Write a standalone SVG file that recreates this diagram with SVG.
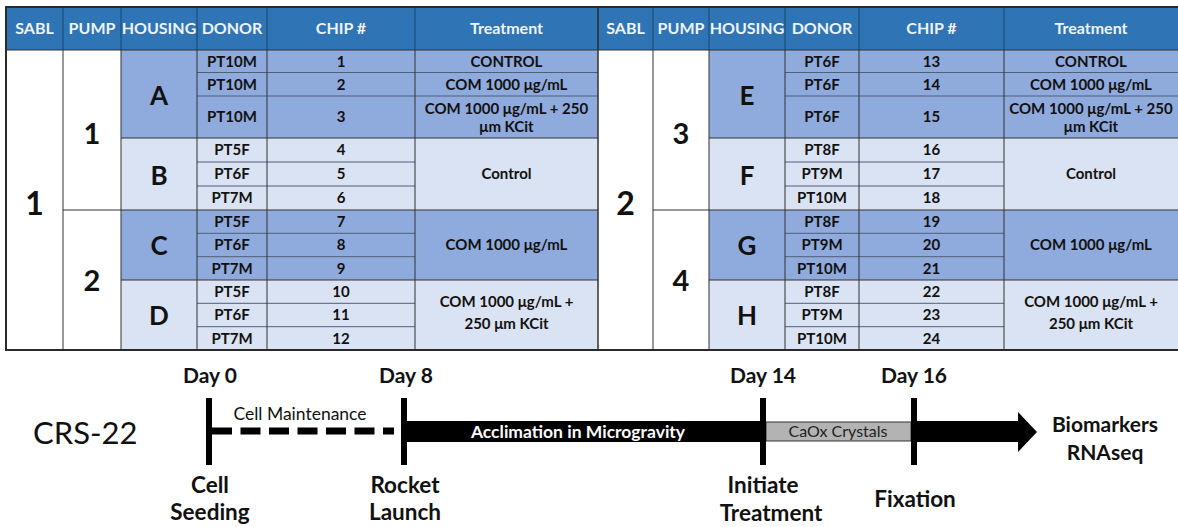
<svg xmlns="http://www.w3.org/2000/svg" width="1178" height="527" viewBox="0 0 1178 527">
<style>
text{font-family:Lato,"Noto Sans","DejaVu Sans",sans-serif}
.ht{font-weight:bold;font-size:16px;fill:#EEF3FA;text-anchor:middle}
.ct{font-weight:bold;font-size:15px;fill:#111;text-anchor:middle}
.big{font-weight:bold;font-size:32px;fill:#111;text-anchor:middle}
.pn{font-weight:bold;font-size:29px;fill:#111;text-anchor:middle}
.hs{font-weight:bold;font-size:26px;fill:#111;text-anchor:middle}
.med{fill:#8FAADC}
.lt{fill:#DAE3F3}
.wh{fill:#FFFFFF}
.g{stroke:#333;stroke-width:1;fill:none}
.s{stroke:#4F5F78;stroke-width:1;fill:none}
.hl{stroke:#1F4E79;stroke-width:1.2}
.tl{font-weight:bold;font-size:21px;fill:#111;text-anchor:middle}
.bl{font-weight:bold;font-size:22.5px;fill:#111;text-anchor:middle}
.bar{fill:#000}
</style>
<rect width="1178" height="527" fill="#fff"/>

<g id="header">
<rect x="6" y="7" width="1174" height="43" fill="#2F75B5"/>
<g class="hl">
<line x1="63" y1="7" x2="63" y2="50"/><line x1="121" y1="7" x2="121" y2="50"/><line x1="197" y1="7" x2="197" y2="50"/><line x1="267" y1="7" x2="267" y2="50"/><line x1="415" y1="7" x2="415" y2="50"/><line x1="598" y1="7" x2="598" y2="50"/>
<line x1="653" y1="7" x2="653" y2="50"/><line x1="709" y1="7" x2="709" y2="50"/><line x1="785" y1="7" x2="785" y2="50"/><line x1="859" y1="7" x2="859" y2="50"/><line x1="1004" y1="7" x2="1004" y2="50"/>
</g>
<text class="ht" x="34.5" y="34.3">SABL</text><text class="ht" x="92" y="34.3">PUMP</text><text class="ht" x="159" y="34.3">HOUSING</text><text class="ht" x="232" y="34.3">DONOR</text><text class="ht" x="341" y="34.3">CHIP #</text><text class="ht" x="506.5" y="34.3">Treatment</text>
<text class="ht" x="625.5" y="34.3">SABL</text><text class="ht" x="681" y="34.3">PUMP</text><text class="ht" x="747" y="34.3">HOUSING</text><text class="ht" x="822" y="34.3">DONOR</text><text class="ht" x="931.5" y="34.3">CHIP #</text><text class="ht" x="1091" y="34.3">Treatment</text>
</g>

<!-- LEFT HALF -->
<g id="sabl-1">
<rect class="wh" x="6" y="50" width="57" height="300"/>
<text class="big" x="34.5" y="215">1</text>
</g>
<g id="pump-1">
<rect class="wh" x="63" y="50" width="58" height="160"/>
<text class="pn" x="92" y="144">1</text>
</g>
<g id="pump-2">
<rect class="wh" x="63" y="210" width="58" height="140"/>
<text class="pn" x="92" y="291">2</text>
</g>
<g id="housing-A">
<rect class="med" x="121" y="50" width="477" height="88"/>
<text class="hs" x="159" y="105">A</text>
<g class="s"><line x1="197" y1="72.5" x2="598" y2="72.5"/><line x1="197" y1="96" x2="598" y2="96"/></g>
<text class="ct" x="232" y="66.6">PT10M</text><text class="ct" x="341" y="66.6">1</text><text class="ct" x="506.5" y="66.6">CONTROL</text>
<text class="ct" x="232" y="89.6">PT10M</text><text class="ct" x="341" y="89.6">2</text><text class="ct" x="506.5" y="89.6">COM 1000 μg/mL</text>
<text class="ct" x="232" y="122.4">PT10M</text><text class="ct" x="341" y="122.4">3</text><text class="ct" x="506.5" y="113.5">COM 1000 μg/mL + 250</text><text class="ct" x="506.5" y="131.5">μm KCit</text>
</g>
<g id="housing-B">
<rect class="lt" x="121" y="138" width="477" height="72"/>
<text class="hs" x="159" y="185">B</text>
<g class="s"><line x1="197" y1="162" x2="415" y2="162"/><line x1="197" y1="186" x2="415" y2="186"/></g>
<text class="ct" x="232" y="155.4">PT5F</text><text class="ct" x="341" y="155.4">4</text>
<text class="ct" x="232" y="179.4">PT6F</text><text class="ct" x="341" y="179.4">5</text>
<text class="ct" x="232" y="203.4">PT7M</text><text class="ct" x="341" y="203.4">6</text>
<text class="ct" x="506.5" y="179.4">Control</text>
</g>
<g id="housing-C">
<rect class="med" x="121" y="210" width="477" height="70"/>
<text class="hs" x="159" y="255">C</text>
<g class="s"><line x1="197" y1="233.3" x2="415" y2="233.3"/><line x1="197" y1="256.7" x2="415" y2="256.7"/></g>
<text class="ct" x="232" y="227">PT5F</text><text class="ct" x="341" y="227">7</text>
<text class="ct" x="232" y="250.4">PT6F</text><text class="ct" x="341" y="250.4">8</text>
<text class="ct" x="232" y="273.7">PT7M</text><text class="ct" x="341" y="273.7">9</text>
<text class="ct" x="506.5" y="250.4">COM 1000 μg/mL</text>
</g>
<g id="housing-D">
<rect class="lt" x="121" y="280" width="477" height="70"/>
<text class="hs" x="159" y="325">D</text>
<g class="s"><line x1="197" y1="303.3" x2="415" y2="303.3"/><line x1="197" y1="326.7" x2="415" y2="326.7"/></g>
<text class="ct" x="232" y="297">PT5F</text><text class="ct" x="341" y="297">10</text>
<text class="ct" x="232" y="320.4">PT6F</text><text class="ct" x="341" y="320.4">11</text>
<text class="ct" x="232" y="343.7">PT7M</text><text class="ct" x="341" y="343.7">12</text>
<text class="ct" x="506.5" y="306.5">COM 1000 μg/mL +</text><text class="ct" x="506.5" y="329">250 μm KCit</text>
</g>

<!-- RIGHT HALF -->
<g id="sabl-2">
<rect class="wh" x="598" y="50" width="55" height="300"/>
<text class="big" x="625.5" y="215">2</text>
</g>
<g id="pump-3">
<rect class="wh" x="653" y="50" width="56" height="160"/>
<text class="pn" x="681" y="144">3</text>
</g>
<g id="pump-4">
<rect class="wh" x="653" y="210" width="56" height="140"/>
<text class="pn" x="681" y="291">4</text>
</g>
<g id="housing-E">
<rect class="med" x="709" y="50" width="471" height="88"/>
<text class="hs" x="747" y="105">E</text>
<g class="s"><line x1="785" y1="72.5" x2="1180" y2="72.5"/><line x1="785" y1="96" x2="1180" y2="96"/></g>
<text class="ct" x="822" y="66.6">PT6F</text><text class="ct" x="931.5" y="66.6">13</text><text class="ct" x="1091" y="66.6">CONTROL</text>
<text class="ct" x="822" y="89.6">PT6F</text><text class="ct" x="931.5" y="89.6">14</text><text class="ct" x="1091" y="89.6">COM 1000 μg/mL</text>
<text class="ct" x="822" y="122.4">PT6F</text><text class="ct" x="931.5" y="122.4">15</text><text class="ct" x="1091" y="113.5">COM 1000 μg/mL + 250</text><text class="ct" x="1091" y="131.5">μm KCit</text>
</g>
<g id="housing-F">
<rect class="lt" x="709" y="138" width="471" height="72"/>
<text class="hs" x="747" y="185">F</text>
<g class="s"><line x1="785" y1="162" x2="1004" y2="162"/><line x1="785" y1="186" x2="1004" y2="186"/></g>
<text class="ct" x="822" y="155.4">PT8F</text><text class="ct" x="931.5" y="155.4">16</text>
<text class="ct" x="822" y="179.4">PT9M</text><text class="ct" x="931.5" y="179.4">17</text>
<text class="ct" x="822" y="203.4">PT10M</text><text class="ct" x="931.5" y="203.4">18</text>
<text class="ct" x="1091" y="179.4">Control</text>
</g>
<g id="housing-G">
<rect class="med" x="709" y="210" width="471" height="70"/>
<text class="hs" x="747" y="255">G</text>
<g class="s"><line x1="785" y1="233.3" x2="1004" y2="233.3"/><line x1="785" y1="256.7" x2="1004" y2="256.7"/></g>
<text class="ct" x="822" y="227">PT8F</text><text class="ct" x="931.5" y="227">19</text>
<text class="ct" x="822" y="250.4">PT9M</text><text class="ct" x="931.5" y="250.4">20</text>
<text class="ct" x="822" y="273.7">PT10M</text><text class="ct" x="931.5" y="273.7">21</text>
<text class="ct" x="1091" y="250.4">COM 1000 μg/mL</text>
</g>
<g id="housing-H">
<rect class="lt" x="709" y="280" width="471" height="70"/>
<text class="hs" x="747" y="325">H</text>
<g class="s"><line x1="785" y1="303.3" x2="1004" y2="303.3"/><line x1="785" y1="326.7" x2="1004" y2="326.7"/></g>
<text class="ct" x="822" y="297">PT8F</text><text class="ct" x="931.5" y="297">22</text>
<text class="ct" x="822" y="320.4">PT9M</text><text class="ct" x="931.5" y="320.4">23</text>
<text class="ct" x="822" y="343.7">PT10M</text><text class="ct" x="931.5" y="343.7">24</text>
<text class="ct" x="1091" y="306.5">COM 1000 μg/mL +</text><text class="ct" x="1091" y="329">250 μm KCit</text>
</g>

<g id="grid" class="g">
<line x1="63" y1="50" x2="63" y2="350"/><line x1="121" y1="50" x2="121" y2="350"/><line x1="197" y1="50" x2="197" y2="350"/><line x1="267" y1="50" x2="267" y2="350"/><line x1="415" y1="50" x2="415" y2="350"/>
<line x1="653" y1="50" x2="653" y2="350"/><line x1="709" y1="50" x2="709" y2="350"/><line x1="785" y1="50" x2="785" y2="350"/><line x1="859" y1="50" x2="859" y2="350"/><line x1="1004" y1="50" x2="1004" y2="350"/>
<line x1="121" y1="138" x2="598" y2="138"/><line x1="63" y1="210" x2="598" y2="210"/><line x1="121" y1="280" x2="598" y2="280"/>
<line x1="709" y1="138" x2="1180" y2="138"/><line x1="653" y1="210" x2="1180" y2="210"/><line x1="709" y1="280" x2="1180" y2="280"/>
<line x1="6" y1="50" x2="1180" y2="50"/>
<line x1="598" y1="7" x2="598" y2="350" stroke-width="1.5"/>
<path d="M1180 7 H6 V350 H1180" stroke="#2a2a2a" stroke-width="2"/>
</g>

<!-- TIMELINE -->
<text x="33" y="444" style="font-size:31px;fill:#111">CRS-22</text>

<g id="connectors">
<line x1="212" y1="431" x2="394" y2="431" stroke="#000" stroke-width="7" stroke-dasharray="20 8.5"/>
<rect class="bar" x="404" y="421" width="358" height="21"/>
<rect x="766" y="422" width="145" height="19" fill="#B3B3B3" stroke="#333" stroke-width="1"/>
<polygon class="bar" points="914,421 1018,421 1018,412 1037,432 1018,452 1018,442 914,442"/>
<text x="300" y="420" style="font-size:17.5px;fill:#111;text-anchor:middle">Cell Maintenance</text>
<text x="578" y="437.5" style="font-size:17.5px;font-weight:bold;fill:#fff;text-anchor:middle">Acclimation in Microgravity</text>
<text x="838" y="436.5" style="font-size:16px;fill:#222;text-anchor:middle">CaOx Crystals</text>
</g>

<g id="day0">
<rect class="bar" x="206" y="398" width="6" height="67"/>
<text class="tl" x="210" y="383">Day 0</text>
<text class="bl" x="210" y="493">Cell</text><text class="bl" x="210" y="520">Seeding</text>
</g>
<g id="day8">
<rect class="bar" x="401" y="398" width="6" height="67"/>
<text class="tl" x="406" y="383">Day 8</text>
<text class="bl" x="405" y="493">Rocket</text><text class="bl" x="405" y="520">Launch</text>
</g>
<g id="day14">
<rect class="bar" x="760" y="398" width="6" height="67"/>
<text class="tl" x="763" y="383">Day 14</text>
<text class="bl" x="763" y="493">Initiate</text><text class="bl" x="771" y="521">Treatment</text>
</g>
<g id="day16">
<rect class="bar" x="911" y="398" width="6" height="67"/>
<text class="tl" x="914" y="383">Day 16</text>
<text class="bl" x="915" y="507">Fixation</text>
</g>
<g id="outcome">
<text class="tl" x="1105" y="432">Biomarkers</text>
<text class="tl" x="1105" y="460">RNAseq</text>
</g>
</svg>
